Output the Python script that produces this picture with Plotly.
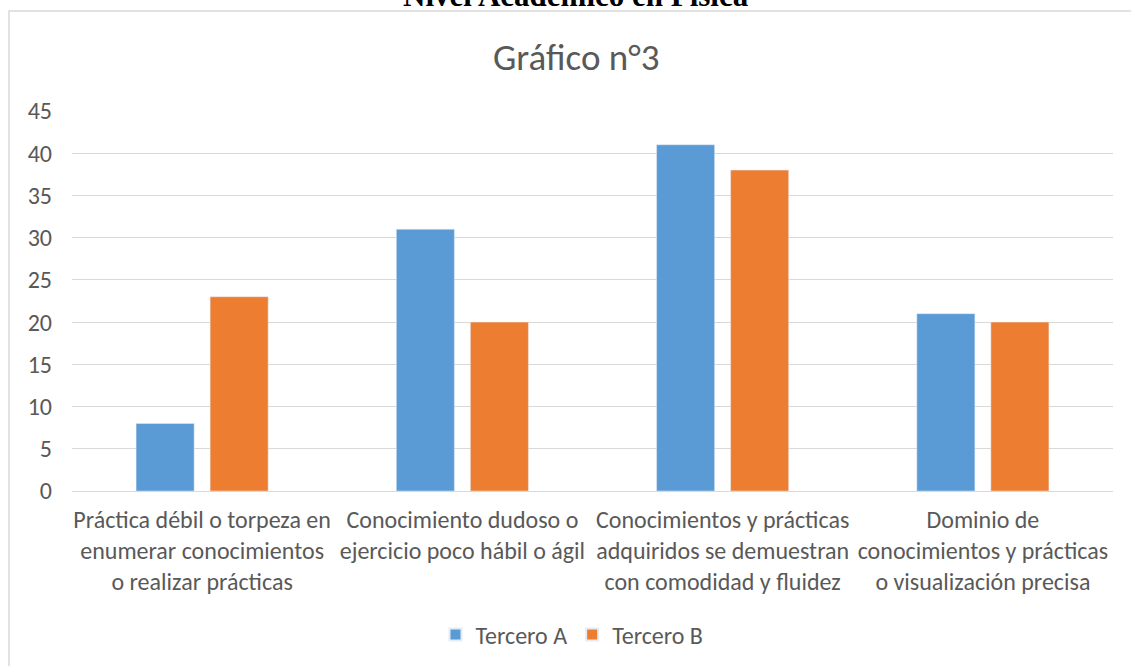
import plotly.graph_objects as go

categories = [
    "Práctica débil o torpeza en<br>enumerar conocimientos<br>o realizar prácticas",
    "Conocimiento dudoso o<br>ejercicio poco hábil o ágil",
    "Conocimientos y prácticas<br>adquiridos se demuestran<br>con comodidad y fluidez",
    "Dominio de<br>conocimientos y prácticas<br>o visualización precisa",
]
tercero_a = [8, 31, 41, 21]
tercero_b = [23, 20, 38, 20]
y_ticks = [0, 5, 10, 15, 20, 25, 30, 35, 40, 45]

FONT = "Calibri, Carlito, Lato, sans-serif"
TEXT = "#595959"
GRID = "#d9d9d9"

W, H = 1131, 666
L, R, T, B = 72, 18, 111, 175
PW, PH = W - L - R, H - T - B


def px_x(x):
    return (x - L) / PW


def px_y(y):
    return (H - B - y) / PH


fig = go.Figure()
fig.add_trace(go.Bar(name="Tercero A", x=categories, y=tercero_a, marker_color="#5b9bd5"))
fig.add_trace(go.Bar(name="Tercero B", x=categories, y=tercero_b, marker_color="#ed7d31"))

fig.update_layout(
    width=W,
    height=H,
    margin=dict(l=L, r=R, t=T, b=B, autoexpand=False),
    paper_bgcolor="white",
    plot_bgcolor="white",
    barmode="group",
    bargap=0.431,
    bargroupgap=0.216,
    font=dict(family=FONT, color=TEXT, size=24),
    showlegend=True,
    legend=dict(
        orientation="h",
        xref="container",
        yref="container",
        x=572 / W,
        xanchor="center",
        y=1 - 635 / H,
        yanchor="middle",
        font=dict(size=24, color=TEXT),
        itemsizing="constant",
        itemwidth=30,
    ),
    xaxis=dict(
        automargin=False,
        showline=False,
        showgrid=False,
        ticks="",
        tickfont=dict(size=24, color=TEXT),
        ticklabelstandoff=12,
    ),
    yaxis=dict(
        automargin=False,
        range=[0, 45],
        tickvals=y_ticks,
        showgrid=True,
        gridcolor=GRID,
        gridwidth=1,
        zeroline=True,
        zerolinecolor=GRID,
        zerolinewidth=1,
        showline=False,
        ticks="",
        tickfont=dict(size=24, color=TEXT),
        ticklabelstandoff=19,
    ),
    shapes=[
        dict(
            type="rect",
            xref="paper",
            yref="paper",
            x0=px_x(9),
            x1=px_x(W + 20),
            y0=px_y(H + 20),
            y1=px_y(11),
            line=dict(color=GRID, width=1.5),
            fillcolor="rgba(0,0,0,0)",
            layer="below",
        )
    ],
    annotations=[
        dict(
            text="Gráfico n°3",
            xref="paper",
            yref="paper",
            x=px_x(576),
            y=px_y(58),
            xanchor="center",
            yanchor="middle",
            showarrow=False,
            font=dict(size=37, color=TEXT, family=FONT),
        ),
        dict(
            text="<b>Nivel Académico en Física</b>",
            xref="paper",
            yref="paper",
            x=px_x(576),
            y=px_y(15),
            xanchor="center",
            yanchor="bottom",
            showarrow=False,
            font=dict(size=31, color="black", family="Liberation Serif, Times New Roman, serif"),
        ),
    ],
)

fig.write_html("out.html")
